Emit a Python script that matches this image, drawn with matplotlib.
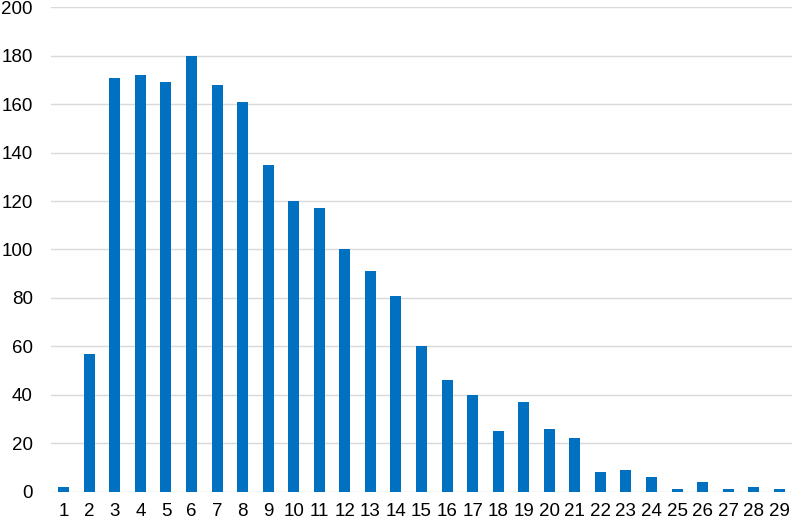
import numpy as np
import matplotlib
matplotlib.use("Agg")
import matplotlib.pyplot as plt

# categories 1..29 and the counts
categories = [str(i) for i in range(1, 30)]
counts = [2, 57, 171, 172, 169, 180, 168, 161, 135, 120,
          117, 100, 91, 81, 60, 46, 40, 25, 37, 26,
          22, 8, 9, 6, 1, 4, 1, 2, 1]
y_ticks = [0, 20, 40, 60, 80, 100, 120, 140, 160, 180, 200]

plt.rcParams['font.family'] = ['Liberation Sans', 'DejaVu Sans']

fig = plt.figure(figsize=(7.96, 5.2), dpi=100)
ax = fig.add_axes([51 / 796, (520 - 491.7) / 520, (792 - 51) / 796, (491.7 - 7.3) / 520])

x = np.arange(len(categories))
ax.bar(x, counts, width=0.43, color='#0070C0', zorder=3)

ax.set_xlim(-0.5, len(categories) - 0.5)
ax.set_ylim(0, 200)
ax.set_yticks(y_ticks)
ax.set_xticks(x)
ax.set_xticklabels(categories)
ax.grid(axis='y', color='#D9D9D9', linewidth=1, zorder=0)

for side in ['top', 'right', 'left', 'bottom']:
    ax.spines[side].set_visible(False)
ax.tick_params(axis='both', length=0, labelsize=13.5, colors='black')
ax.tick_params(axis='y', pad=13)
ax.tick_params(axis='x', pad=8)

fig.savefig('out.png', dpi=100)
